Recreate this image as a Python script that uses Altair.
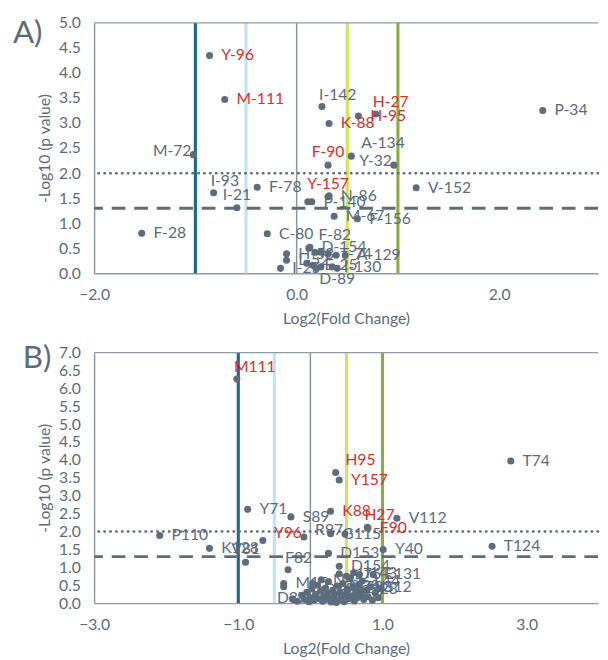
import altair as alt
import pandas as pd

# ---------------- Panel A data ----------------
a_names = ["Y-96", "M-111", "M-72", "I-93", "I-21", "F-78", "F-28", "C-80",
           "I-142", "H-27", "H-95", "K-88", "A-134", "Y-32", "F-90", "V-152",
           "P-34", "Y-157", "N-86", "P-140", "", "M-67", "F-156",
           "D-154", "F-82", "", "", "T-74", "", "A-129", "", "E-25", "",
           "I-130", "", "H-53", "L-52", "I-25", "D-89"]
a_fc = [-0.86, -0.71, -1.02, -0.82, -0.59, -0.39, -1.53, -0.29,
        0.25, 0.78, 0.61, 0.32, 0.54, 0.96, 0.31, 1.18,
        2.43, 0.31, 0.32, 0.15, 0.11, 0.37, 0.60,
        0.13, 0.12, 0.18, 0.24, 0.31, 0.39, 0.48, 0.10, 0.16, 0.24,
        0.35, 0.19, -0.10, -0.10, -0.16, 0.40]
a_p = [4.35, 3.47, 2.37, 1.61, 1.31, 1.72, 0.80, 0.79,
       3.33, 3.18, 3.14, 2.99, 2.34, 2.16, 2.16, 1.71,
       3.25, 1.53, 1.55, 1.43, 1.43, 1.14, 1.09,
       0.52, 0.50, 0.42, 0.42, 0.39, 0.36, 0.36, 0.20, 0.16, 0.13,
       0.13, 0.10, 0.39, 0.26, 0.10, 0.10]
a_red = {"Y-96", "M-111", "H-27", "H-95", "K-88", "F-90", "Y-157"}
a_place = {"M-72": "l", "I-93": "tr", "I-21": "t", "I-142": "tr", "H-27": "tr",
           "A-134": "ur", "Y-32": "l", "F-90": "t", "Y-157": "t", "F-82": "ur",
           "D-89": "b"}
a_xticks = [-2.0, 0.0, 2.0]
a_yticks = [0.0, 0.5, 1.0, 1.5, 2.0, 2.5, 3.0, 3.5, 4.0, 4.5, 5.0]

# ---------------- Panel B data ----------------
b_names = ["M111", "Y71", "S89", "P110", "K128", "Y96", "", "V81", "F82",
           "H95", "Y157", "T74", "K88", "H27", "F90", "V112", "G115", "R97",
           "D153", "Y40", "T124", "D154", "N76", "E131", "S23", "M15", "", "D37",
           "", "", "", "", "", "C36", "", "", "", "", "V102", "", "", "", "A41",
           "", "", "", "", "", "Q29", "", "", "", "", "", "E57", "", "", "",
           "", "", "", "T83", "", "", "", "", "", "", "L44", "", "", "", "G12",
           "", "", "", "", "", "", "N45", "I143", "", ""]
b_fc = [-1.02, -0.87, -0.27, -2.09, -1.40, -0.09, -0.66, -0.90, -0.31,
        0.35, 0.40, 2.78, 0.28, 0.79, 0.80, 1.20, 0.28, 0.48,
        0.25, 1.01, 2.52, 0.40, 0.40, 0.87, 0.68, -0.37, -0.37, -0.02,
        -0.18, -0.12, -0.08, -0.05, 0.00, 0.02, 0.05, 0.07, 0.10, 0.12, 0.14,
        0.17, 0.19, 0.21, 0.21, 0.23, 0.25, 0.27, 0.29, 0.31, 0.37, 0.33, 0.35,
        0.39, 0.41, 0.43, 0.49, 0.45, 0.47, 0.51, 0.53, 0.55, 0.57, 0.59,
        0.61, 0.63, 0.65, 0.67, 0.70, 0.74, 0.72, 0.77, 0.80, 0.86, 0.83,
        0.90, 0.94, 0.97, -0.25, 0.03, 0.50, 0.15, 0.60, 0.68, 0.36]
b_p = [6.26, 2.62, 2.41, 1.89, 1.53, 1.85, 1.75, 1.14, 0.93,
       3.65, 3.44, 3.97, 2.57, 2.12, 2.10, 2.37, 1.94, 1.93,
       1.39, 1.50, 1.59, 1.03, 0.82, 0.80, 0.38, 0.55, 0.46, 0.04,
       0.05, 0.22, 0.10, 0.30, 0.15, 0.40, 0.08, 0.25, 0.50, 0.12, 0.33,
       0.05, 0.20, 0.10, 0.42, 0.28, 0.60, 0.15, 0.03, 0.36, 0.48, 0.22, 0.08,
       0.08, 0.30, 0.17, 0.25, 0.55, 0.04, 0.38, 0.12, 0.70, 0.20, 0.45,
       0.06, 0.30, 0.15, 0.52, 0.22, 0.10, 0.62, 0.35, 0.18, 0.08, 0.45,
       0.28, 0.15, 0.40, 0.12, 0.55, 0.75, 0.65, 0.85, 0.80, 0.02]
b_red = {"M111", "Y96", "H95", "Y157", "K88", "H27", "F90"}
b_place = {"M111": "tr", "Y96": "l", "V81": "t", "F82": "tr", "H95": "ur",
           "H27": "tr", "R97": "l", "D37": "l"}
b_xticks = [-3.0, -1.0, 1.0, 3.0]
b_yticks = [0.0, 0.5, 1.0, 1.5, 2.0, 2.5, 3.0, 3.5, 4.0, 4.5, 5.0, 5.5, 6.0, 6.5, 7.0]

# thresholds (log2 fold change) and colours
thr_x = [-1.0, -0.5, 0.5, 1.0, 0.0]
thr_col = ["#1b6b89", "#bde3f4", "#d6e15e", "#8cad3d", "#8794a2"]
thr_w = [3.2, 3.2, 3.2, 3.2, 1.5]

FONT = "Lato"
TEXT = "#5b6b7b"
POINT = "#5d6d7e"
RED = "#d92e2a"
FRAME = "#8d9bab"
W, H = 515, 256

PLACE = {
    "r": dict(align="left", dx=12, dy=0),
    "l": dict(align="right", dx=-2, dy=-4),
    "t": dict(align="center", dx=0, dy=-13),
    "tr": dict(align="left", dx=-3, dy=-12),
    "ur": dict(align="left", dx=10, dy=-13),
    "b": dict(align="center", dx=0, dy=11),
}


def panel(names, fc, p, red, place, xdom, xticks, yticks, letter, lx, ly):
    df = pd.DataFrame({"name": names, "fc": fc, "p": p})
    df["col"] = ["red" if n in red else "grey" for n in names]
    df["pos"] = [place.get(n, "r") for n in names]
    ymax = yticks[-1]
    xs = alt.Scale(domain=xdom, nice=False, zero=False)
    ys = alt.Scale(domain=[0, ymax], nice=False)
    xax = alt.Axis(values=xticks, format=".1f", title="Log2(Fold Change)")
    yax = alt.Axis(values=yticks, format=".1f", title="-Log10 (p value)")

    def X(f):
        return alt.X(f, type="quantitative", scale=xs, axis=xax)

    def Y(f):
        return alt.Y(f, type="quantitative", scale=ys, axis=yax)

    thr = pd.DataFrame({"fc": thr_x, "c": thr_col, "w": thr_w})
    vlines = alt.Chart(thr).mark_rule().encode(
        x=X("fc"),
        color=alt.Color("c:N", scale=None),
        strokeWidth=alt.StrokeWidth("w:Q", scale=None),
    )
    top = alt.Chart(pd.DataFrame({"p": [ymax]})).mark_rule(
        color=FRAME, strokeWidth=1.5).encode(y=Y("p"))
    dotted = alt.Chart(pd.DataFrame({"p": [2.0]})).mark_rule(
        color=POINT, strokeWidth=2.6, strokeDash=[0.5, 5.5], strokeCap="round"
    ).encode(y=Y("p"))
    dashed = alt.Chart(pd.DataFrame({"p": [1.3]})).mark_rule(
        color=POINT, strokeWidth=3, strokeDash=[14, 9]
    ).encode(y=Y("p"))
    pts = alt.Chart(df).mark_circle(size=52, color=POINT, opacity=1).encode(
        x=X("fc"), y=Y("p"))
    layers = [vlines, top, dotted, dashed, pts]
    for key, opt in PLACE.items():
        sub = df[(df["pos"] == key) & (df["name"] != "")]
        if len(sub) == 0:
            continue
        layers.append(
            alt.Chart(sub).mark_text(font=FONT, fontSize=16, baseline="middle", **opt).encode(
                x=X("fc"), y=Y("p"), text="name:N",
                color=alt.Color("col:N", scale=alt.Scale(domain=["red", "grey"], range=[RED, TEXT]),
                                legend=None),
            )
        )
    lab = alt.Chart(pd.DataFrame({"t": [letter]})).mark_text(
        font=FONT, fontSize=32, align="left", baseline="alphabetic", color=TEXT
    ).encode(x=alt.value(lx), y=alt.value(ly), text="t:N")
    layers.append(lab)
    return alt.layer(*layers).properties(width=W, height=H)


chart_a = panel(a_names, a_fc, a_p, a_red, a_place, [-2.0, 2.976], a_xticks, a_yticks, "A)", -83, 21)
chart_b = panel(b_names, b_fc, b_p, b_red, b_place, [-3.0, 3.99], b_xticks, b_yticks, "B)", -73, 16)

chart = alt.vconcat(chart_a, chart_b, spacing=17).properties(
    padding={"left": 5, "top": 0, "right": 0, "bottom": 0}
).configure_view(
    stroke=None
).configure_axis(
    domainColor=FRAME, domainWidth=1.5, ticks=False, tickSize=0, grid=False,
    labelFont=FONT, labelFontSize=16, labelColor=TEXT, labelPadding=14,
    labelFlush=False, labelOverlap=False,
    titleFont=FONT, titleFontSize=16, titleFontWeight="normal", titleColor=TEXT,
).configure_axisX(titlePadding=8).configure_axisY(titlePadding=6)

chart.save("out.html", embed_options={"renderer": "svg", "actions": False})
